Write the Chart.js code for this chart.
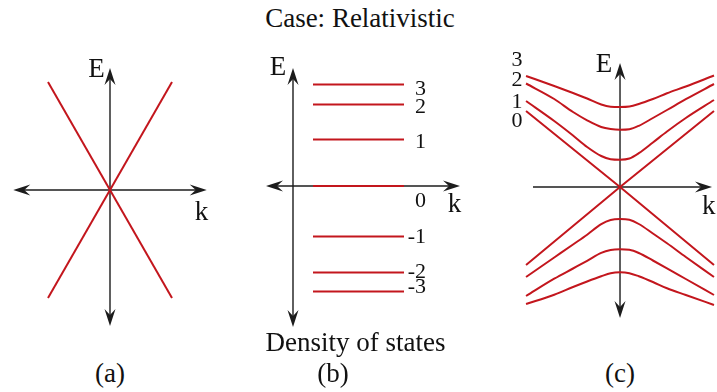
<!DOCTYPE html>
<html>
<head>
<meta charset="utf-8">
<script src="https://cdn.jsdelivr.net/npm/chart.js@4.4.1/dist/chart.umd.min.js"></script>
<style>
  html, body { margin: 0; padding: 0; background: #fff; }
  #wrap { position: relative; width: 717px; height: 392px; overflow: hidden;
          font-family: "Liberation Serif", "Times New Roman", serif; color: #111; }
  #wrap canvas { position: absolute; }
  .txt { position: absolute; font-size: 27px; white-space: nowrap; transform: translate(-50%, -50%); }
</style>
</head>
<body>
<div id="wrap">
  <div class="txt" style="left:360px; top:17.5px;">Case: Relativistic</div>
  <canvas id="panelA" width="220" height="300" style="left:0; top:40px;"></canvas>
  <canvas id="panelB" width="250" height="300" style="left:240px; top:40px;"></canvas>
  <canvas id="panelC" width="217" height="300" style="left:500px; top:40px;"></canvas>
  <div class="txt" style="left:355.5px; top:342px;">Density of states</div>
  <div class="txt" style="left:110px; top:373px;">(a)</div>
  <div class="txt" style="left:333px; top:373px;">(b)</div>
  <div class="txt" style="left:620px; top:373px;">(c)</div>
</div>
<script>
// ---- (a) massless Dirac cone: E = ±k ----
const kA = [-1, 1];
const eA_plus = [-1, 1];
const eA_minus = [1, -1];

// ---- (b) Landau levels ----
const levelLabelsB = ['3', '2', '1', '0', '-1', '-2', '-3'];
const levelsB = [2.03, 1.63, 0.93, 0, -1.01, -1.73, -2.11];
const bandK_B = [0.2, 1.11];

// ---- (c) Landau bands vs k_z ----
const kz = [-1, -0.7, -0.5, -0.35, -0.2, -0.1, 0, 0.1, 0.2, 0.35, 0.5, 0.7, 1];
const eC3  = [1.11, 1.01, 0.94, 0.885, 0.825, 0.803, 0.80, 0.805, 0.83, 0.88, 0.937, 1.005, 1.115];
const eC2  = [1.035, 0.88, 0.75, 0.667, 0.60, 0.58, 0.573, 0.578, 0.612, 0.69, 0.77, 0.878, 1.03];
const eC1  = [0.86, 0.66, 0.515, 0.40, 0.31, 0.278, 0.273, 0.285, 0.338, 0.445, 0.555, 0.69, 0.87];
const eCm1 = [-0.90, -0.705, -0.575, -0.477, -0.372, -0.33, -0.32, -0.328, -0.37, -0.465, -0.563, -0.70, -0.90];
const eCm2 = [-1.09, -0.917, -0.815, -0.738, -0.658, -0.63, -0.623, -0.628, -0.66, -0.735, -0.813, -0.92, -1.08];
const eCm3 = [-1.17, -1.077, -1.0, -0.945, -0.893, -0.862, -0.853, -0.862, -0.893, -0.95, -1.013, -1.08, -1.18];
const kz0 = [-1, 0, 1];
const eC0_down = [0.76, 0, -0.78];
const eC0_up = [-0.78, 0, 0.76];
const levelLabelsC = ['3', '2', '1', '0'];

const RED = '#c3161d';
const INK = '#1c1c1c';
const SERIF = '"Liberation Serif", "Times New Roman", serif';

const pts = (xs, ys) => xs.map((x, i) => ({ x, y: ys[i] }));

function redLine(data, smooth) {
  return {
    data, showLine: true, borderColor: RED, borderWidth: 2, pointRadius: 0,
    fill: false, tension: 0, cubicInterpolationMode: smooth ? 'monotone' : 'default'
  };
}

function arrowHead(ctx, x1, y1, x2, y2) {
  const a = Math.atan2(y2 - y1, x2 - x1);
  ctx.save();
  ctx.translate(x2, y2);
  ctx.rotate(a);
  ctx.beginPath();
  ctx.moveTo(0, 0);
  ctx.lineTo(-17, -5.5);
  ctx.lineTo(-11, 0);
  ctx.lineTo(-17, 5.5);
  ctx.closePath();
  ctx.fill();
  ctx.restore();
}

// axes with arrowheads and text labels, placed through the chart scales
function decorPlugin(decor) {
  return {
    id: 'decor',
    beforeDatasetsDraw(chart) {
      const { ctx, scales: { x, y } } = chart;
      ctx.save();
      ctx.strokeStyle = INK;
      ctx.fillStyle = INK;
      ctx.lineWidth = 1.4;
      decor.axes.forEach(ax => {
        const x1 = x.getPixelForValue(ax.from[0]), y1 = y.getPixelForValue(ax.from[1]);
        const x2 = x.getPixelForValue(ax.to[0]), y2 = y.getPixelForValue(ax.to[1]);
        const len = Math.hypot(x2 - x1, y2 - y1), ux = (x2 - x1) / len, uy = (y2 - y1) / len;
        const s = ax.startArrow ? 10 : 0, e = ax.endArrow ? 10 : 0;
        ctx.beginPath();
        ctx.moveTo(x1 + ux * s, y1 + uy * s);
        ctx.lineTo(x2 - ux * e, y2 - uy * e);
        ctx.stroke();
        if (ax.endArrow) arrowHead(ctx, x1, y1, x2, y2);
        if (ax.startArrow) arrowHead(ctx, x2, y2, x1, y1);
      });
      ctx.restore();
    },
    afterDatasetsDraw(chart) {
      const { ctx, scales: { x, y } } = chart;
      ctx.save();
      ctx.fillStyle = '#111';
      ctx.textBaseline = 'alphabetic';
      decor.labels.forEach(lb => {
        const size = lb.size || 27;
        ctx.font = size + 'px ' + SERIF;
        ctx.textAlign = lb.align || 'center';
        const px = x.getPixelForValue(lb.at[0]);
        const py = y.getPixelForValue(lb.at[1]) + size * 0.335;
        ctx.fillText(lb.text, px, py);
        if (lb.sub) {
          const w = ctx.measureText(lb.text).width;
          ctx.font = Math.round(size * 0.65) + 'px ' + SERIF;
          ctx.textAlign = 'left';
          const left = lb.align === 'left' ? px + w : px + w / 2;
          ctx.fillText(lb.sub, left + 1, py + 5);
        }
      });
      ctx.restore();
    }
  };
}

function buildPanel(id, xr, yr, datasets, decor) {
  return new Chart(document.getElementById(id), {
    type: 'scatter',
    data: { datasets },
    options: {
      responsive: false,
      animation: false,
      events: [],
      layout: { padding: 0 },
      scales: {
        x: { type: 'linear', display: false, min: xr[0], max: xr[1] },
        y: { type: 'linear', display: false, min: yr[0], max: yr[1] }
      },
      plugins: { legend: { display: false }, tooltip: { enabled: false } }
    },
    plugins: [decorPlugin(decor)]
  });
}

// (a)
buildPanel('panelA', [-1.774, 1.774], [-1.389, 1.389], [
  redLine(pts(kA, eA_plus), false),
  redLine(pts(kA, eA_minus), false)
], {
  axes: [
    { from: [-1.56, 0], to: [1.56, 0], startArrow: true, endArrow: true },
    { from: [0, -1.26], to: [0, 1.13], startArrow: true, endArrow: true }
  ],
  labels: [
    { text: 'E', at: [-0.218, 1.13] },
    { text: 'k', at: [1.476, -0.19] }
  ]
});

// (b)
const labelPosB = [1.97, 1.6, 0.91, -0.27, -0.99, -1.69, -2.0];
buildPanel('panelB', [-0.53, 1.97], [-3.08, 2.92],
  levelsB.map(e => redLine(pts(bandK_B, [e, e]), false)),
{
  axes: [
    { from: [-0.27, 0], to: [1.67, 0], startArrow: true, endArrow: true },
    { from: [0, -2.82], to: [0, 2.36], startArrow: true, endArrow: true }
  ],
  labels: [
    { text: 'E', at: [-0.15, 2.41] },
    { text: 'k', at: [1.615, -0.34] },
    ...levelLabelsB.map((t, i) => ({ text: t, size: 22, align: 'right', at: [1.33, labelPosB[i]] }))
  ]
});

// (c)
const labelPosC = [1.28, 1.08, 0.86, 0.67];
buildPanel('panelC', [-1.277, 1.032], [-1.53, 1.47], [
  redLine(pts(kz, eC3), true),
  redLine(pts(kz, eC2), true),
  redLine(pts(kz, eC1), true),
  redLine(pts(kz0, eC0_down), false),
  redLine(pts(kz0, eC0_up), false),
  redLine(pts(kz, eCm1), true),
  redLine(pts(kz, eCm2), true),
  redLine(pts(kz, eCm3), true)
], {
  axes: [
    { from: [-0.926, 0], to: [0.979, 0], startArrow: false, endArrow: true },
    { from: [0, -1.31], to: [0, 1.24], startArrow: true, endArrow: true }
  ],
  labels: [
    { text: 'E', at: [-0.17, 1.24] },
    { text: 'k', sub: 'z', align: 'left', at: [0.872, -0.18] },
    ...levelLabelsC.map((t, i) => ({ text: t, size: 22, at: [-1.096, labelPosC[i]] }))
  ]
});
</script>
</body>
</html>
